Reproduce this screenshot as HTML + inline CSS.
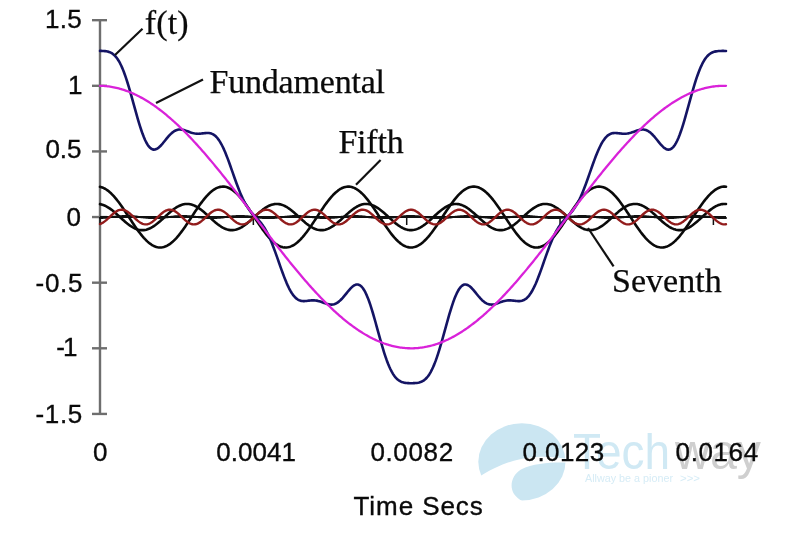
<!DOCTYPE html>
<html><head><meta charset="utf-8"><style>
html,body{margin:0;padding:0;background:#fff;}
svg{display:block;filter:blur(0.35px);}
.ax{font-family:"Liberation Sans",sans-serif;font-size:26px;fill:#0a0a0a;stroke:#0a0a0a;stroke-width:0.35px;}
.sr{font-family:"Liberation Serif",serif;font-size:34px;fill:#0a0a0a;stroke:#0a0a0a;stroke-width:0.25px;}
</style></head><body>
<svg width="800" height="548" viewBox="0 0 800 548">
<rect width="800" height="548" fill="#fff"/>
<g id="logo">
<ellipse cx="521.9" cy="461.8" rx="43.6" ry="38.6" fill="#cbe6f2"/>
<path d="M468,479 L478.5,477.5 C494,467 515,457.5 540,456.8 C552,456.6 562,458 570,459.5 L570,462.8 C556,462 535,462.5 521,469.5 C512,475 509,486 514,494 C518,500 526,503 534,506 L468,512 Z" fill="#fff"/>
<text x="573" y="468.75" textLength="97" lengthAdjust="spacingAndGlyphs" style="font-family:'Liberation Sans',sans-serif;font-size:49.5px;fill:#d0e9f4">Tech</text>
<text x="675" y="468.75" textLength="86" lengthAdjust="spacingAndGlyphs" style="font-family:'Liberation Sans',sans-serif;font-size:49.5px;fill:#cfcfcf">way</text>
<text x="585" y="481.5" textLength="88" lengthAdjust="spacingAndGlyphs" style="font-family:'Liberation Sans',sans-serif;font-size:10.5px;fill:#d6ecf6">Allway be a pioner</text>
<text x="680" y="481.5" textLength="20" lengthAdjust="spacingAndGlyphs" style="font-family:'Liberation Sans',sans-serif;font-size:10.5px;fill:#d6ecf6">&gt;&gt;&gt;</text>
</g>
<line x1="100" y1="20.2" x2="100" y2="413.9" stroke="#6e6e6e" stroke-width="2.4"/>
<line x1="92" y1="20.18" x2="107" y2="20.18" stroke="#6e6e6e" stroke-width="2.4"/>
<line x1="92" y1="85.80" x2="107" y2="85.80" stroke="#6e6e6e" stroke-width="2.4"/>
<line x1="92" y1="151.43" x2="107" y2="151.43" stroke="#6e6e6e" stroke-width="2.4"/>
<line x1="92" y1="217.05" x2="107" y2="217.05" stroke="#6e6e6e" stroke-width="2.4"/>
<line x1="92" y1="282.68" x2="107" y2="282.68" stroke="#6e6e6e" stroke-width="2.4"/>
<line x1="92" y1="348.30" x2="107" y2="348.30" stroke="#6e6e6e" stroke-width="2.4"/>
<line x1="92" y1="413.93" x2="107" y2="413.93" stroke="#6e6e6e" stroke-width="2.4"/>

<line x1="100" y1="217" x2="726" y2="217" stroke="#111" stroke-width="2"/>
<line x1="100.00" y1="217" x2="100.00" y2="225" stroke="#111" stroke-width="1.5"/>
<line x1="253.35" y1="217" x2="253.35" y2="225" stroke="#111" stroke-width="1.5"/>
<line x1="406.70" y1="217" x2="406.70" y2="225" stroke="#111" stroke-width="1.5"/>
<line x1="560.05" y1="217" x2="560.05" y2="225" stroke="#111" stroke-width="1.5"/>
<line x1="713.40" y1="217" x2="713.40" y2="225" stroke="#111" stroke-width="1.5"/>

<g fill="none" stroke-linejoin="round" stroke-linecap="round">
<path d="M100.00,186.84 L101.25,187.14 L102.50,187.55 L103.76,188.08 L105.01,188.73 L106.26,189.49 L107.51,190.35 L108.76,191.32 L110.02,192.39 L111.27,193.56 L112.52,194.82 L113.77,196.17 L115.02,197.60 L116.28,199.11 L117.53,200.69 L118.78,202.33 L120.03,204.03 L121.28,205.78 L122.54,207.58 L123.79,209.41 L125.04,211.27 L126.29,213.16 L127.54,215.06 L128.80,216.97 L130.05,218.88 L131.30,220.78 L132.55,222.67 L133.80,224.53 L135.06,226.37 L136.31,228.17 L137.56,229.92 L138.81,231.63 L140.06,233.27 L141.32,234.86 L142.57,236.37 L143.82,237.81 L145.07,239.16 L146.32,240.43 L147.58,241.61 L148.83,242.69 L150.08,243.67 L151.33,244.54 L152.58,245.31 L153.84,245.97 L155.09,246.51 L156.34,246.93 L157.59,247.24 L158.84,247.43 L160.10,247.50 L161.35,247.45 L162.60,247.28 L163.85,246.99 L165.10,246.59 L166.36,246.06 L167.61,245.43 L168.86,244.68 L170.11,243.82 L171.36,242.86 L172.62,241.80 L173.87,240.63 L175.12,239.38 L176.37,238.04 L177.62,236.61 L178.88,235.11 L180.13,233.54 L181.38,231.90 L182.63,230.21 L183.88,228.46 L185.14,226.67 L186.39,224.84 L187.64,222.98 L188.89,221.09 L190.14,219.19 L191.40,217.28 L192.65,215.38 L193.90,213.47 L195.15,211.58 L196.40,209.72 L197.66,207.88 L198.91,206.08 L200.16,204.32 L201.41,202.61 L202.66,200.96 L203.92,199.37 L205.17,197.85 L206.42,196.40 L207.67,195.04 L208.92,193.77 L210.18,192.58 L211.43,191.49 L212.68,190.51 L213.93,189.62 L215.18,188.85 L216.44,188.18 L217.69,187.63 L218.94,187.20 L220.19,186.88 L221.44,186.68 L222.70,186.60 L223.95,186.64 L225.20,186.80 L226.45,187.08 L227.70,187.48 L228.96,187.99 L230.21,188.62 L231.46,189.36 L232.71,190.21 L233.96,191.16 L235.22,192.22 L236.47,193.37 L237.72,194.62 L238.97,195.95 L240.22,197.37 L241.48,198.86 L242.73,200.43 L243.98,202.06 L245.23,203.75 L246.48,205.50 L247.74,207.29 L248.99,209.11 L250.24,210.97 L251.49,212.86 L252.74,214.75 L254.00,216.66 L255.25,218.57 L256.50,220.48 L257.75,222.37 L259.00,224.23 L260.26,226.08 L261.51,227.88 L262.76,229.64 L264.01,231.36 L265.26,233.01 L266.52,234.61 L267.77,236.13 L269.02,237.58 L270.27,238.95 L271.52,240.24 L272.78,241.43 L274.03,242.52 L275.28,243.52 L276.53,244.41 L277.78,245.19 L279.04,245.87 L280.29,246.43 L281.54,246.87 L282.79,247.20 L284.04,247.41 L285.30,247.50 L286.55,247.47 L287.80,247.32 L289.05,247.05 L290.30,246.66 L291.56,246.15 L292.81,245.54 L294.06,244.81 L295.31,243.97 L296.56,243.02 L297.82,241.97 L299.07,240.83 L300.32,239.59 L301.57,238.26 L302.82,236.85 L304.08,235.36 L305.33,233.80 L306.58,232.17 L307.83,230.48 L309.08,228.74 L310.34,226.96 L311.59,225.13 L312.84,223.28 L314.09,221.40 L315.34,219.50 L316.60,217.59 L317.85,215.68 L319.10,213.78 L320.35,211.88 L321.60,210.01 L322.86,208.17 L324.11,206.36 L325.36,204.60 L326.61,202.88 L327.86,201.22 L329.12,199.62 L330.37,198.09 L331.62,196.63 L332.87,195.25 L334.12,193.96 L335.38,192.76 L336.63,191.66 L337.88,190.66 L339.13,189.76 L340.38,188.96 L341.64,188.28 L342.89,187.71 L344.14,187.26 L345.39,186.92 L346.64,186.70 L347.90,186.61 L349.15,186.63 L350.40,186.77 L351.65,187.03 L352.90,187.41 L354.16,187.90 L355.41,188.51 L356.66,189.23 L357.91,190.06 L359.16,191.00 L360.42,192.04 L361.67,193.18 L362.92,194.41 L364.17,195.73 L365.42,197.14 L366.68,198.62 L367.93,200.18 L369.18,201.80 L370.43,203.48 L371.68,205.22 L372.94,207.00 L374.19,208.82 L375.44,210.67 L376.69,212.55 L377.94,214.45 L379.20,216.36 L380.45,218.27 L381.70,220.17 L382.95,222.06 L384.20,223.94 L385.46,225.78 L386.71,227.60 L387.96,229.37 L389.21,231.09 L390.46,232.75 L391.72,234.36 L392.97,235.89 L394.22,237.36 L395.47,238.74 L396.72,240.04 L397.98,241.24 L399.23,242.35 L400.48,243.37 L401.73,244.28 L402.98,245.08 L404.24,245.77 L405.49,246.35 L406.74,246.81 L407.99,247.15 L409.24,247.38 L410.50,247.49 L411.75,247.48 L413.00,247.35 L414.25,247.10 L415.50,246.73 L416.76,246.24 L418.01,245.64 L419.26,244.93 L420.51,244.11 L421.76,243.18 L423.02,242.15 L424.27,241.02 L425.52,239.79 L426.77,238.48 L428.02,237.08 L429.28,235.60 L430.53,234.05 L431.78,232.43 L433.03,230.76 L434.28,229.02 L435.54,227.25 L436.79,225.43 L438.04,223.57 L439.29,221.70 L440.54,219.80 L441.80,217.90 L443.05,215.99 L444.30,214.08 L445.55,212.19 L446.80,210.31 L448.06,208.46 L449.31,206.65 L450.56,204.87 L451.81,203.15 L453.06,201.48 L454.32,199.87 L455.57,198.33 L456.82,196.86 L458.07,195.47 L459.32,194.16 L460.58,192.95 L461.83,191.83 L463.08,190.81 L464.33,189.89 L465.58,189.08 L466.84,188.38 L468.09,187.80 L469.34,187.32 L470.59,186.97 L471.84,186.73 L473.10,186.61 L474.35,186.62 L475.60,186.74 L476.85,186.98 L478.10,187.34 L479.36,187.81 L480.61,188.41 L481.86,189.11 L483.11,189.92 L484.36,190.84 L485.62,191.87 L486.87,192.99 L488.12,194.21 L489.37,195.52 L490.62,196.91 L491.88,198.38 L493.13,199.92 L494.38,201.54 L495.63,203.21 L496.88,204.94 L498.14,206.71 L499.39,208.53 L500.64,210.38 L501.89,212.25 L503.14,214.15 L504.40,216.05 L505.65,217.96 L506.90,219.87 L508.15,221.76 L509.40,223.64 L510.66,225.49 L511.91,227.31 L513.16,229.09 L514.41,230.82 L515.66,232.49 L516.92,234.11 L518.17,235.65 L519.42,237.13 L520.67,238.52 L521.92,239.84 L523.18,241.06 L524.43,242.18 L525.68,243.21 L526.93,244.14 L528.18,244.96 L529.44,245.67 L530.69,246.26 L531.94,246.74 L533.19,247.11 L534.44,247.35 L535.70,247.48 L536.95,247.49 L538.20,247.38 L539.45,247.14 L540.70,246.79 L541.96,246.33 L543.21,245.75 L544.46,245.05 L545.71,244.25 L546.96,243.33 L548.22,242.32 L549.47,241.20 L550.72,239.99 L551.97,238.69 L553.22,237.31 L554.48,235.84 L555.73,234.30 L556.98,232.70 L558.23,231.03 L559.48,229.30 L560.74,227.53 L561.99,225.72 L563.24,223.87 L564.49,222.00 L565.74,220.11 L567.00,218.20 L568.25,216.29 L569.50,214.38 L570.75,212.49 L572.00,210.61 L573.26,208.76 L574.51,206.94 L575.76,205.15 L577.01,203.42 L578.26,201.74 L579.52,200.12 L580.77,198.57 L582.02,197.09 L583.27,195.68 L584.52,194.37 L585.78,193.14 L587.03,192.00 L588.28,190.97 L589.53,190.03 L590.78,189.21 L592.04,188.49 L593.29,187.88 L594.54,187.39 L595.79,187.02 L597.04,186.76 L598.30,186.62 L599.55,186.61 L600.80,186.71 L602.05,186.93 L603.30,187.27 L604.56,187.73 L605.81,188.30 L607.06,188.99 L608.31,189.79 L609.56,190.69 L610.82,191.70 L612.07,192.80 L613.32,194.01 L614.57,195.30 L615.82,196.68 L617.08,198.14 L618.33,199.67 L619.58,201.27 L620.83,202.94 L622.08,204.66 L623.34,206.42 L624.59,208.23 L625.84,210.08 L627.09,211.95 L628.34,213.84 L629.60,215.75 L630.85,217.66 L632.10,219.56 L633.35,221.46 L634.60,223.34 L635.86,225.20 L637.11,227.02 L638.36,228.80 L639.61,230.54 L640.86,232.23 L642.12,233.85 L643.37,235.41 L644.62,236.90 L645.87,238.31 L647.12,239.63 L648.38,240.87 L649.63,242.01 L650.88,243.05 L652.13,244.00 L653.38,244.83 L654.64,245.56 L655.89,246.17 L657.14,246.67 L658.39,247.06 L659.64,247.32 L660.90,247.47 L662.15,247.50 L663.40,247.40 L664.65,247.19 L665.90,246.86 L667.16,246.41 L668.41,245.85 L669.66,245.17 L670.91,244.38 L672.16,243.49 L673.42,242.49 L674.67,241.39 L675.92,240.19 L677.17,238.91 L678.42,237.53 L679.68,236.08 L680.93,234.55 L682.18,232.96 L683.43,231.30 L684.68,229.58 L685.94,227.82 L687.19,226.01 L688.44,224.17 L689.69,222.30 L690.94,220.41 L692.20,218.50 L693.45,216.60 L694.70,214.69 L695.95,212.79 L697.20,210.91 L698.46,209.05 L699.71,207.22 L700.96,205.44 L702.21,203.69 L703.46,202.01 L704.72,200.37 L705.97,198.81 L707.22,197.32 L708.47,195.90 L709.72,194.57 L710.98,193.33 L712.23,192.18 L713.48,191.13 L714.73,190.17 L715.98,189.33 L717.24,188.59 L718.49,187.97 L719.74,187.46 L720.99,187.07 L722.24,186.79 L723.50,186.64 L724.75,186.60 L726.00,186.69" stroke="#0a0a0a" stroke-width="2.6"/>
<path d="M100.00,204.13 L101.25,204.38 L102.50,204.73 L103.76,205.17 L105.01,205.70 L106.26,206.33 L107.51,207.03 L108.76,207.81 L110.02,208.67 L111.27,209.58 L112.52,210.56 L113.77,211.59 L115.02,212.65 L116.28,213.76 L117.53,214.88 L118.78,216.03 L120.03,217.18 L121.28,218.33 L122.54,219.47 L123.79,220.59 L125.04,221.69 L126.29,222.75 L127.54,223.76 L128.80,224.72 L130.05,225.63 L131.30,226.47 L132.55,227.23 L133.80,227.92 L135.06,228.52 L136.31,229.04 L137.56,229.46 L138.81,229.79 L140.06,230.02 L141.32,230.14 L142.57,230.17 L143.82,230.10 L145.07,229.93 L146.32,229.65 L147.58,229.28 L148.83,228.82 L150.08,228.26 L151.33,227.62 L152.58,226.90 L153.84,226.10 L155.09,225.23 L156.34,224.30 L157.59,223.31 L158.84,222.27 L160.10,221.20 L161.35,220.09 L162.60,218.96 L163.85,217.81 L165.10,216.66 L166.36,215.51 L167.61,214.37 L168.86,213.26 L170.11,212.17 L171.36,211.12 L172.62,210.11 L173.87,209.16 L175.12,208.27 L176.37,207.45 L177.62,206.70 L178.88,206.03 L180.13,205.45 L181.38,204.96 L182.63,204.56 L183.88,204.25 L185.14,204.05 L186.39,203.94 L187.64,203.94 L188.89,204.03 L190.14,204.23 L191.40,204.52 L192.65,204.92 L193.90,205.40 L195.15,205.98 L196.40,206.64 L197.66,207.38 L198.91,208.20 L200.16,209.08 L201.41,210.02 L202.66,211.02 L203.92,212.07 L205.17,213.15 L206.42,214.27 L207.67,215.40 L208.92,216.55 L210.18,217.70 L211.43,218.85 L212.68,219.99 L213.93,221.10 L215.18,222.18 L216.44,223.22 L217.69,224.21 L218.94,225.15 L220.19,226.02 L221.44,226.83 L222.70,227.56 L223.95,228.21 L225.20,228.77 L226.45,229.24 L227.70,229.62 L228.96,229.90 L230.21,230.09 L231.46,230.17 L232.71,230.15 L233.96,230.03 L235.22,229.81 L236.47,229.49 L237.72,229.08 L238.97,228.57 L240.22,227.98 L241.48,227.30 L242.73,226.54 L243.98,225.71 L245.23,224.81 L246.48,223.85 L247.74,222.84 L248.99,221.79 L250.24,220.69 L251.49,219.57 L252.74,218.43 L254.00,217.28 L255.25,216.13 L256.50,214.99 L257.75,213.86 L259.00,212.75 L260.26,211.68 L261.51,210.65 L262.76,209.67 L264.01,208.75 L265.26,207.89 L266.52,207.10 L267.77,206.39 L269.02,205.76 L270.27,205.21 L271.52,204.76 L272.78,204.40 L274.03,204.15 L275.28,203.98 L276.53,203.93 L277.78,203.97 L279.04,204.11 L280.29,204.35 L281.54,204.69 L282.79,205.13 L284.04,205.65 L285.30,206.27 L286.55,206.97 L287.80,207.74 L289.05,208.59 L290.30,209.50 L291.56,210.48 L292.81,211.50 L294.06,212.56 L295.31,213.66 L296.56,214.79 L297.82,215.93 L299.07,217.08 L300.32,218.23 L301.57,219.37 L302.82,220.50 L304.08,221.59 L305.33,222.66 L306.58,223.68 L307.83,224.64 L309.08,225.55 L310.34,226.40 L311.59,227.17 L312.84,227.86 L314.09,228.47 L315.34,229.00 L316.60,229.43 L317.85,229.76 L319.10,230.00 L320.35,230.14 L321.60,230.17 L322.86,230.11 L324.11,229.94 L325.36,229.68 L326.61,229.32 L327.86,228.86 L329.12,228.31 L330.37,227.68 L331.62,226.96 L332.87,226.17 L334.12,225.31 L335.38,224.38 L336.63,223.40 L337.88,222.36 L339.13,221.29 L340.38,220.18 L341.64,219.05 L342.89,217.91 L344.14,216.76 L345.39,215.61 L346.64,214.47 L347.90,213.35 L349.15,212.26 L350.40,211.21 L351.65,210.20 L352.90,209.24 L354.16,208.35 L355.41,207.52 L356.66,206.76 L357.91,206.09 L359.16,205.50 L360.42,205.00 L361.67,204.59 L362.92,204.27 L364.17,204.06 L365.42,203.95 L366.68,203.93 L367.93,204.02 L369.18,204.21 L370.43,204.50 L371.68,204.88 L372.94,205.36 L374.19,205.93 L375.44,206.58 L376.69,207.31 L377.94,208.12 L379.20,209.00 L380.45,209.94 L381.70,210.94 L382.95,211.98 L384.20,213.06 L385.46,214.17 L386.71,215.31 L387.96,216.45 L389.21,217.61 L390.46,218.75 L391.72,219.89 L392.97,221.00 L394.22,222.09 L395.47,223.13 L396.72,224.13 L397.98,225.07 L399.23,225.95 L400.48,226.76 L401.73,227.50 L402.98,228.15 L404.24,228.73 L405.49,229.21 L406.74,229.59 L407.99,229.88 L409.24,230.08 L410.50,230.17 L411.75,230.16 L413.00,230.05 L414.25,229.83 L415.50,229.53 L416.76,229.12 L418.01,228.62 L419.26,228.03 L420.51,227.36 L421.76,226.61 L423.02,225.78 L424.27,224.89 L425.52,223.94 L426.77,222.93 L428.02,221.88 L429.28,220.79 L430.53,219.67 L431.78,218.53 L433.03,217.38 L434.28,216.23 L435.54,215.08 L436.79,213.95 L438.04,212.85 L439.29,211.77 L440.54,210.74 L441.80,209.75 L443.05,208.82 L444.30,207.96 L445.55,207.16 L446.80,206.44 L448.06,205.81 L449.31,205.26 L450.56,204.80 L451.81,204.43 L453.06,204.16 L454.32,203.99 L455.57,203.93 L456.82,203.96 L458.07,204.09 L459.32,204.33 L460.58,204.66 L461.83,205.09 L463.08,205.61 L464.33,206.21 L465.58,206.91 L466.84,207.67 L468.09,208.52 L469.34,209.42 L470.59,210.39 L471.84,211.41 L473.10,212.47 L474.35,213.57 L475.60,214.69 L476.85,215.83 L478.10,216.98 L479.36,218.13 L480.61,219.28 L481.86,220.40 L483.11,221.50 L484.36,222.57 L485.62,223.59 L486.87,224.56 L488.12,225.48 L489.37,226.33 L490.62,227.11 L491.88,227.81 L493.13,228.43 L494.38,228.96 L495.63,229.40 L496.88,229.74 L498.14,229.98 L499.39,230.13 L500.64,230.17 L501.89,230.12 L503.14,229.96 L504.40,229.71 L505.65,229.35 L506.90,228.90 L508.15,228.36 L509.40,227.74 L510.66,227.03 L511.91,226.24 L513.16,225.38 L514.41,224.46 L515.66,223.48 L516.92,222.45 L518.17,221.38 L519.42,220.28 L520.67,219.15 L521.92,218.01 L523.18,216.86 L524.43,215.70 L525.68,214.56 L526.93,213.44 L528.18,212.35 L529.44,211.29 L530.69,210.28 L531.94,209.32 L533.19,208.42 L534.44,207.59 L535.70,206.83 L536.95,206.14 L538.20,205.54 L539.45,205.04 L540.70,204.62 L541.96,204.30 L543.21,204.07 L544.46,203.95 L545.71,203.93 L546.96,204.01 L548.22,204.19 L549.47,204.47 L550.72,204.84 L551.97,205.31 L553.22,205.87 L554.48,206.52 L555.73,207.25 L556.98,208.05 L558.23,208.92 L559.48,209.86 L560.74,210.85 L561.99,211.89 L563.24,212.97 L564.49,214.08 L565.74,215.21 L567.00,216.36 L568.25,217.51 L569.50,218.66 L570.75,219.79 L572.00,220.91 L573.26,221.99 L574.51,223.04 L575.76,224.04 L577.01,224.99 L578.26,225.88 L579.52,226.69 L580.77,227.44 L582.02,228.10 L583.27,228.68 L584.52,229.17 L585.78,229.56 L587.03,229.86 L588.28,230.06 L589.53,230.16 L590.78,230.16 L592.04,230.06 L593.29,229.86 L594.54,229.56 L595.79,229.16 L597.04,228.67 L598.30,228.09 L599.55,227.42 L600.80,226.68 L602.05,225.86 L603.30,224.97 L604.56,224.02 L605.81,223.02 L607.06,221.97 L608.31,220.88 L609.56,219.77 L610.82,218.63 L612.07,217.48 L613.32,216.33 L614.57,215.18 L615.82,214.05 L617.08,212.94 L618.33,211.86 L619.58,210.83 L620.83,209.84 L622.08,208.90 L623.34,208.03 L624.59,207.23 L625.84,206.50 L627.09,205.86 L628.34,205.30 L629.60,204.83 L630.85,204.46 L632.10,204.18 L633.35,204.01 L634.60,203.93 L635.86,203.95 L637.11,204.08 L638.36,204.30 L639.61,204.63 L640.86,205.05 L642.12,205.56 L643.37,206.16 L644.62,206.84 L645.87,207.61 L647.12,208.44 L648.38,209.34 L649.63,210.31 L650.88,211.32 L652.13,212.38 L653.38,213.47 L654.64,214.59 L655.89,215.73 L657.14,216.88 L658.39,218.03 L659.64,219.18 L660.90,220.31 L662.15,221.41 L663.40,222.48 L664.65,223.51 L665.90,224.48 L667.16,225.40 L668.41,226.26 L669.66,227.04 L670.91,227.75 L672.16,228.38 L673.42,228.91 L674.67,229.36 L675.92,229.71 L677.17,229.97 L678.42,230.12 L679.68,230.17 L680.93,230.13 L682.18,229.98 L683.43,229.73 L684.68,229.39 L685.94,228.94 L687.19,228.41 L688.44,227.79 L689.69,227.09 L690.94,226.31 L692.20,225.46 L693.45,224.54 L694.70,223.57 L695.95,222.54 L697.20,221.48 L698.46,220.37 L699.71,219.25 L700.96,218.11 L702.21,216.95 L703.46,215.80 L704.72,214.66 L705.97,213.54 L707.22,212.44 L708.47,211.38 L709.72,210.37 L710.98,209.40 L712.23,208.50 L713.48,207.66 L714.73,206.89 L715.98,206.20 L717.24,205.59 L718.49,205.07 L719.74,204.65 L720.99,204.32 L722.24,204.09 L723.50,203.96 L724.75,203.93 L726.00,204.00" stroke="#0a0a0a" stroke-width="2.6"/>
<path d="M100.00,218.06 L101.25,218.01 L102.50,217.94 L103.76,217.86 L105.01,217.76 L106.26,217.65 L107.51,217.52 L108.76,217.39 L110.02,217.25 L111.27,217.11 L112.52,216.96 L113.77,216.82 L115.02,216.68 L116.28,216.55 L117.53,216.43 L118.78,216.32 L120.03,216.22 L121.28,216.14 L122.54,216.08 L123.79,216.03 L125.04,216.01 L126.29,216.00 L127.54,216.02 L128.80,216.05 L130.05,216.10 L131.30,216.17 L132.55,216.26 L133.80,216.37 L135.06,216.48 L136.31,216.61 L137.56,216.74 L138.81,216.88 L140.06,217.03 L141.32,217.17 L142.57,217.32 L143.82,217.45 L145.07,217.58 L146.32,217.70 L147.58,217.81 L148.83,217.90 L150.08,217.98 L151.33,218.04 L152.58,218.08 L153.84,218.10 L155.09,218.10 L156.34,218.08 L157.59,218.04 L158.84,217.98 L160.10,217.91 L161.35,217.81 L162.60,217.71 L163.85,217.59 L165.10,217.46 L166.36,217.32 L167.61,217.18 L168.86,217.04 L170.11,216.89 L171.36,216.75 L172.62,216.62 L173.87,216.49 L175.12,216.37 L176.37,216.27 L177.62,216.18 L178.88,216.11 L180.13,216.05 L181.38,216.02 L182.63,216.00 L183.88,216.00 L185.14,216.03 L186.39,216.07 L187.64,216.13 L188.89,216.21 L190.14,216.31 L191.40,216.42 L192.65,216.54 L193.90,216.67 L195.15,216.81 L196.40,216.95 L197.66,217.10 L198.91,217.24 L200.16,217.38 L201.41,217.51 L202.66,217.64 L203.92,217.75 L205.17,217.85 L206.42,217.94 L207.67,218.01 L208.92,218.06 L210.18,218.09 L211.43,218.10 L212.68,218.09 L213.93,218.06 L215.18,218.01 L216.44,217.95 L217.69,217.87 L218.94,217.77 L220.19,217.65 L221.44,217.53 L222.70,217.40 L223.95,217.26 L225.20,217.11 L226.45,216.97 L227.70,216.83 L228.96,216.69 L230.21,216.55 L231.46,216.43 L232.71,216.32 L233.96,216.22 L235.22,216.14 L236.47,216.08 L237.72,216.03 L238.97,216.01 L240.22,216.00 L241.48,216.01 L242.73,216.05 L243.98,216.10 L245.23,216.17 L246.48,216.26 L247.74,216.36 L248.99,216.47 L250.24,216.60 L251.49,216.74 L252.74,216.88 L254.00,217.02 L255.25,217.17 L256.50,217.31 L257.75,217.45 L259.00,217.58 L260.26,217.70 L261.51,217.80 L262.76,217.90 L264.01,217.97 L265.26,218.03 L266.52,218.07 L267.77,218.10 L269.02,218.10 L270.27,218.08 L271.52,218.04 L272.78,217.99 L274.03,217.91 L275.28,217.82 L276.53,217.71 L277.78,217.60 L279.04,217.47 L280.29,217.33 L281.54,217.19 L282.79,217.05 L284.04,216.90 L285.30,216.76 L286.55,216.62 L287.80,216.50 L289.05,216.38 L290.30,216.27 L291.56,216.18 L292.81,216.11 L294.06,216.05 L295.31,216.02 L296.56,216.00 L297.82,216.00 L299.07,216.03 L300.32,216.07 L301.57,216.13 L302.82,216.21 L304.08,216.30 L305.33,216.41 L306.58,216.53 L307.83,216.66 L309.08,216.80 L310.34,216.94 L311.59,217.09 L312.84,217.23 L314.09,217.37 L315.34,217.51 L316.60,217.63 L317.85,217.75 L319.10,217.85 L320.35,217.94 L321.60,218.00 L322.86,218.06 L324.11,218.09 L325.36,218.10 L326.61,218.09 L327.86,218.06 L329.12,218.02 L330.37,217.95 L331.62,217.87 L332.87,217.77 L334.12,217.66 L335.38,217.54 L336.63,217.40 L337.88,217.26 L339.13,217.12 L340.38,216.98 L341.64,216.83 L342.89,216.69 L344.14,216.56 L345.39,216.44 L346.64,216.33 L347.90,216.23 L349.15,216.15 L350.40,216.08 L351.65,216.03 L352.90,216.01 L354.16,216.00 L355.41,216.01 L356.66,216.04 L357.91,216.10 L359.16,216.17 L360.42,216.25 L361.67,216.35 L362.92,216.47 L364.17,216.59 L365.42,216.73 L366.68,216.87 L367.93,217.01 L369.18,217.16 L370.43,217.30 L371.68,217.44 L372.94,217.57 L374.19,217.69 L375.44,217.80 L376.69,217.89 L377.94,217.97 L379.20,218.03 L380.45,218.07 L381.70,218.10 L382.95,218.10 L384.20,218.08 L385.46,218.04 L386.71,217.99 L387.96,217.92 L389.21,217.83 L390.46,217.72 L391.72,217.60 L392.97,217.48 L394.22,217.34 L395.47,217.20 L396.72,217.05 L397.98,216.91 L399.23,216.77 L400.48,216.63 L401.73,216.50 L402.98,216.38 L404.24,216.28 L405.49,216.19 L406.74,216.11 L407.99,216.06 L409.24,216.02 L410.50,216.00 L411.75,216.00 L413.00,216.03 L414.25,216.07 L415.50,216.13 L416.76,216.20 L418.01,216.30 L419.26,216.41 L420.51,216.53 L421.76,216.66 L423.02,216.79 L424.27,216.94 L425.52,217.08 L426.77,217.23 L428.02,217.37 L429.28,217.50 L430.53,217.63 L431.78,217.74 L433.03,217.84 L434.28,217.93 L435.54,218.00 L436.79,218.05 L438.04,218.09 L439.29,218.10 L440.54,218.09 L441.80,218.07 L443.05,218.02 L444.30,217.96 L445.55,217.87 L446.80,217.78 L448.06,217.67 L449.31,217.54 L450.56,217.41 L451.81,217.27 L453.06,217.13 L454.32,216.98 L455.57,216.84 L456.82,216.70 L458.07,216.57 L459.32,216.44 L460.58,216.33 L461.83,216.23 L463.08,216.15 L464.33,216.08 L465.58,216.04 L466.84,216.01 L468.09,216.00 L469.34,216.01 L470.59,216.04 L471.84,216.09 L473.10,216.16 L474.35,216.25 L475.60,216.35 L476.85,216.46 L478.10,216.59 L479.36,216.72 L480.61,216.86 L481.86,217.00 L483.11,217.15 L484.36,217.29 L485.62,217.43 L486.87,217.56 L488.12,217.68 L489.37,217.79 L490.62,217.89 L491.88,217.97 L493.13,218.03 L494.38,218.07 L495.63,218.10 L496.88,218.10 L498.14,218.08 L499.39,218.05 L500.64,217.99 L501.89,217.92 L503.14,217.83 L504.40,217.73 L505.65,217.61 L506.90,217.48 L508.15,217.35 L509.40,217.21 L510.66,217.06 L511.91,216.92 L513.16,216.77 L514.41,216.64 L515.66,216.51 L516.92,216.39 L518.17,216.28 L519.42,216.19 L520.67,216.12 L521.92,216.06 L523.18,216.02 L524.43,216.00 L525.68,216.00 L526.93,216.02 L528.18,216.06 L529.44,216.12 L530.69,216.20 L531.94,216.29 L533.19,216.40 L534.44,216.52 L535.70,216.65 L536.95,216.79 L538.20,216.93 L539.45,217.07 L540.70,217.22 L541.96,217.36 L543.21,217.49 L544.46,217.62 L545.71,217.74 L546.96,217.84 L548.22,217.93 L549.47,218.00 L550.72,218.05 L551.97,218.09 L553.22,218.10 L554.48,218.09 L555.73,218.07 L556.98,218.02 L558.23,217.96 L559.48,217.88 L560.74,217.78 L561.99,217.67 L563.24,217.55 L564.49,217.42 L565.74,217.28 L567.00,217.14 L568.25,216.99 L569.50,216.85 L570.75,216.71 L572.00,216.58 L573.26,216.45 L574.51,216.34 L575.76,216.24 L577.01,216.15 L578.26,216.09 L579.52,216.04 L580.77,216.01 L582.02,216.00 L583.27,216.01 L584.52,216.04 L585.78,216.09 L587.03,216.16 L588.28,216.24 L589.53,216.34 L590.78,216.45 L592.04,216.58 L593.29,216.71 L594.54,216.85 L595.79,217.00 L597.04,217.14 L598.30,217.28 L599.55,217.42 L600.80,217.55 L602.05,217.68 L603.30,217.79 L604.56,217.88 L605.81,217.96 L607.06,218.03 L608.31,218.07 L609.56,218.09 L610.82,218.10 L612.07,218.08 L613.32,218.05 L614.57,218.00 L615.82,217.92 L617.08,217.84 L618.33,217.73 L619.58,217.62 L620.83,217.49 L622.08,217.35 L623.34,217.21 L624.59,217.07 L625.84,216.92 L627.09,216.78 L628.34,216.64 L629.60,216.52 L630.85,216.40 L632.10,216.29 L633.35,216.20 L634.60,216.12 L635.86,216.06 L637.11,216.02 L638.36,216.00 L639.61,216.00 L640.86,216.02 L642.12,216.06 L643.37,216.12 L644.62,216.20 L645.87,216.29 L647.12,216.39 L648.38,216.51 L649.63,216.64 L650.88,216.78 L652.13,216.92 L653.38,217.07 L654.64,217.21 L655.89,217.35 L657.14,217.49 L658.39,217.61 L659.64,217.73 L660.90,217.83 L662.15,217.92 L663.40,217.99 L664.65,218.05 L665.90,218.08 L667.16,218.10 L668.41,218.09 L669.66,218.07 L670.91,218.03 L672.16,217.96 L673.42,217.88 L674.67,217.79 L675.92,217.68 L677.17,217.56 L678.42,217.43 L679.68,217.29 L680.93,217.15 L682.18,217.00 L683.43,216.86 L684.68,216.72 L685.94,216.58 L687.19,216.46 L688.44,216.34 L689.69,216.24 L690.94,216.16 L692.20,216.09 L693.45,216.04 L694.70,216.01 L695.95,216.00 L697.20,216.01 L698.46,216.04 L699.71,216.09 L700.96,216.15 L702.21,216.24 L703.46,216.34 L704.72,216.45 L705.97,216.57 L707.22,216.71 L708.47,216.85 L709.72,216.99 L710.98,217.13 L712.23,217.28 L713.48,217.42 L714.73,217.55 L715.98,217.67 L717.24,217.78 L718.49,217.88 L719.74,217.96 L720.99,218.02 L722.24,218.07 L723.50,218.09 L724.75,218.10 L726.00,218.09" stroke="#111" stroke-width="2"/>
<path d="M100.00,224.01 L101.25,223.54 L102.50,222.89 L103.76,222.09 L105.01,221.16 L106.26,220.11 L107.51,218.99 L108.76,217.81 L110.02,216.61 L111.27,215.43 L112.52,214.28 L113.77,213.21 L115.02,212.25 L116.28,211.41 L117.53,210.72 L118.78,210.20 L120.03,209.86 L121.28,209.71 L122.54,209.75 L123.79,209.99 L125.04,210.42 L126.29,211.02 L127.54,211.79 L128.80,212.69 L130.05,213.71 L131.30,214.81 L132.55,215.98 L133.80,217.18 L135.06,218.37 L136.31,219.52 L137.56,220.61 L138.81,221.61 L140.06,222.49 L141.32,223.22 L142.57,223.78 L143.82,224.17 L145.07,224.37 L146.32,224.38 L147.58,224.19 L148.83,223.81 L150.08,223.25 L151.33,222.53 L152.58,221.66 L153.84,220.67 L155.09,219.58 L156.34,218.43 L157.59,217.24 L158.84,216.04 L160.10,214.87 L161.35,213.76 L162.60,212.74 L163.85,211.83 L165.10,211.06 L166.36,210.45 L167.61,210.01 L168.86,209.76 L170.11,209.70 L171.36,209.84 L172.62,210.17 L173.87,210.69 L175.12,211.37 L176.37,212.20 L177.62,213.16 L178.88,214.23 L180.13,215.36 L181.38,216.55 L182.63,217.75 L183.88,218.93 L185.14,220.05 L186.39,221.10 L187.64,222.05 L188.89,222.85 L190.14,223.51 L191.40,223.99 L192.65,224.29 L193.90,224.40 L195.15,224.31 L196.40,224.03 L197.66,223.57 L198.91,222.93 L200.16,222.13 L201.41,221.20 L202.66,220.16 L203.92,219.04 L205.17,217.86 L206.42,216.67 L207.67,215.48 L208.92,214.33 L210.18,213.26 L211.43,212.29 L212.68,211.44 L213.93,210.75 L215.18,210.22 L216.44,209.87 L217.69,209.71 L218.94,209.75 L220.19,209.98 L221.44,210.40 L222.70,210.99 L223.95,211.75 L225.20,212.64 L226.45,213.66 L227.70,214.76 L228.96,215.93 L230.21,217.12 L231.46,218.31 L232.71,219.47 L233.96,220.57 L235.22,221.57 L236.47,222.45 L237.72,223.19 L238.97,223.76 L240.22,224.16 L241.48,224.37 L242.73,224.38 L243.98,224.20 L245.23,223.83 L246.48,223.28 L247.74,222.57 L248.99,221.70 L250.24,220.72 L251.49,219.63 L252.74,218.48 L254.00,217.29 L255.25,216.10 L256.50,214.93 L257.75,213.81 L259.00,212.78 L260.26,211.87 L261.51,211.09 L262.76,210.47 L264.01,210.03 L265.26,209.77 L266.52,209.70 L267.77,209.83 L269.02,210.15 L270.27,210.66 L271.52,211.33 L272.78,212.16 L274.03,213.11 L275.28,214.17 L276.53,215.31 L277.78,216.49 L279.04,217.69 L280.29,218.87 L281.54,220.00 L282.79,221.06 L284.04,222.00 L285.30,222.82 L286.55,223.48 L287.80,223.98 L289.05,224.28 L290.30,224.40 L291.56,224.32 L292.81,224.05 L294.06,223.59 L295.31,222.96 L296.56,222.17 L297.82,221.25 L299.07,220.21 L300.32,219.09 L301.57,217.92 L302.82,216.72 L304.08,215.53 L305.33,214.39 L306.58,213.31 L307.83,212.33 L309.08,211.48 L310.34,210.77 L311.59,210.24 L312.84,209.88 L314.09,209.71 L315.34,209.74 L316.60,209.96 L317.85,210.37 L319.10,210.96 L320.35,211.71 L321.60,212.60 L322.86,213.61 L324.11,214.71 L325.36,215.87 L326.61,217.07 L327.86,218.26 L329.12,219.42 L330.37,220.52 L331.62,221.52 L332.87,222.41 L334.12,223.16 L335.38,223.74 L336.63,224.15 L337.88,224.36 L339.13,224.39 L340.38,224.21 L341.64,223.85 L342.89,223.31 L344.14,222.60 L345.39,221.75 L346.64,220.76 L347.90,219.69 L349.15,218.54 L350.40,217.35 L351.65,216.15 L352.90,214.98 L354.16,213.86 L355.41,212.83 L356.66,211.91 L357.91,211.12 L359.16,210.50 L360.42,210.04 L361.67,209.78 L362.92,209.70 L364.17,209.82 L365.42,210.14 L366.68,210.63 L367.93,211.30 L369.18,212.12 L370.43,213.07 L371.68,214.12 L372.94,215.26 L374.19,216.44 L375.44,217.64 L376.69,218.82 L377.94,219.95 L379.20,221.01 L380.45,221.96 L381.70,222.79 L382.95,223.46 L384.20,223.96 L385.46,224.27 L386.71,224.40 L387.96,224.33 L389.21,224.06 L390.46,223.62 L391.72,222.99 L392.97,222.21 L394.22,221.29 L395.47,220.26 L396.72,219.14 L397.98,217.97 L399.23,216.78 L400.48,215.59 L401.73,214.44 L402.98,213.36 L404.24,212.37 L405.49,211.51 L406.74,210.80 L407.99,210.26 L409.24,209.89 L410.50,209.72 L411.75,209.73 L413.00,209.95 L414.25,210.35 L415.50,210.93 L416.76,211.67 L418.01,212.56 L419.26,213.56 L420.51,214.66 L421.76,215.82 L423.02,217.01 L424.27,218.20 L425.52,219.37 L426.77,220.47 L428.02,221.48 L429.28,222.37 L430.53,223.13 L431.78,223.72 L433.03,224.13 L434.28,224.36 L435.54,224.39 L436.79,224.23 L438.04,223.87 L439.29,223.34 L440.54,222.64 L441.80,221.79 L443.05,220.81 L444.30,219.74 L445.55,218.59 L446.80,217.40 L448.06,216.21 L449.31,215.03 L450.56,213.91 L451.81,212.87 L453.06,211.95 L454.32,211.16 L455.57,210.52 L456.82,210.06 L458.07,209.78 L459.32,209.70 L460.58,209.81 L461.83,210.12 L463.08,210.60 L464.33,211.26 L465.58,212.08 L466.84,213.02 L468.09,214.07 L469.34,215.20 L470.59,216.38 L471.84,217.58 L473.10,218.76 L474.35,219.90 L475.60,220.96 L476.85,221.92 L478.10,222.75 L479.36,223.43 L480.61,223.94 L481.86,224.26 L483.11,224.40 L484.36,224.34 L485.62,224.08 L486.87,223.64 L488.12,223.02 L489.37,222.25 L490.62,221.34 L491.88,220.31 L493.13,219.20 L494.38,218.03 L495.63,216.83 L496.88,215.64 L498.14,214.49 L499.39,213.40 L500.64,212.42 L501.89,211.55 L503.14,210.83 L504.40,210.28 L505.65,209.90 L506.90,209.72 L508.15,209.73 L509.40,209.93 L510.66,210.33 L511.91,210.90 L513.16,211.63 L514.41,212.51 L515.66,213.51 L516.92,214.60 L518.17,215.76 L519.42,216.95 L520.67,218.15 L521.92,219.32 L523.18,220.42 L524.43,221.44 L525.68,222.34 L526.93,223.09 L528.18,223.69 L529.44,224.12 L530.69,224.35 L531.94,224.39 L533.19,224.24 L534.44,223.89 L535.70,223.37 L536.95,222.67 L538.20,221.83 L539.45,220.86 L540.70,219.79 L541.96,218.64 L543.21,217.46 L544.46,216.26 L545.71,215.09 L546.96,213.96 L548.22,212.92 L549.47,211.99 L550.72,211.19 L551.97,210.55 L553.22,210.08 L554.48,209.79 L555.73,209.70 L556.98,209.80 L558.23,210.10 L559.48,210.58 L560.74,211.23 L561.99,212.04 L563.24,212.98 L564.49,214.02 L565.74,215.15 L567.00,216.33 L568.25,217.53 L569.50,218.71 L570.75,219.85 L572.00,220.92 L573.26,221.88 L574.51,222.72 L575.76,223.40 L577.01,223.92 L578.26,224.25 L579.52,224.39 L580.77,224.34 L582.02,224.10 L583.27,223.66 L584.52,223.06 L585.78,222.29 L587.03,221.38 L588.28,220.36 L589.53,219.25 L590.78,218.08 L592.04,216.89 L593.29,215.70 L594.54,214.54 L595.79,213.45 L597.04,212.46 L598.30,211.59 L599.55,210.86 L600.80,210.30 L602.05,209.92 L603.30,209.72 L604.56,209.72 L605.81,209.92 L607.06,210.31 L608.31,210.87 L609.56,211.60 L610.82,212.47 L612.07,213.46 L613.32,214.55 L614.57,215.71 L615.82,216.90 L617.08,218.10 L618.33,219.26 L619.58,220.37 L620.83,221.39 L622.08,222.30 L623.34,223.06 L624.59,223.67 L625.84,224.10 L627.09,224.34 L628.34,224.39 L629.60,224.25 L630.85,223.91 L632.10,223.39 L633.35,222.71 L634.60,221.87 L635.86,220.91 L637.11,219.84 L638.36,218.70 L639.61,217.51 L640.86,216.32 L642.12,215.14 L643.37,214.01 L644.62,212.96 L645.87,212.03 L647.12,211.22 L648.38,210.57 L649.63,210.09 L650.88,209.80 L652.13,209.70 L653.38,209.79 L654.64,210.08 L655.89,210.55 L657.14,211.20 L658.39,212.00 L659.64,212.93 L660.90,213.97 L662.15,215.10 L663.40,216.27 L664.65,217.47 L665.90,218.66 L667.16,219.80 L668.41,220.87 L669.66,221.84 L670.91,222.68 L672.16,223.37 L673.42,223.90 L674.67,224.24 L675.92,224.39 L677.17,224.35 L678.42,224.11 L679.68,223.69 L680.93,223.09 L682.18,222.33 L683.43,221.43 L684.68,220.41 L685.94,219.30 L687.19,218.14 L688.44,216.94 L689.69,215.75 L690.94,214.59 L692.20,213.50 L693.45,212.50 L694.70,211.63 L695.95,210.89 L697.20,210.32 L698.46,209.93 L699.71,209.73 L700.96,209.72 L702.21,209.91 L703.46,210.28 L704.72,210.84 L705.97,211.56 L707.22,212.43 L708.47,213.42 L709.72,214.50 L710.98,215.65 L712.23,216.84 L713.48,218.04 L714.73,219.21 L715.98,220.32 L717.24,221.35 L718.49,222.26 L719.74,223.03 L720.99,223.65 L722.24,224.08 L723.50,224.34 L724.75,224.40 L726.00,224.26" stroke="#921c1c" stroke-width="2.4"/>
<path d="M100.00,50.91 L101.25,50.92 L102.50,50.96 L103.76,51.02 L105.01,51.13 L106.26,51.30 L107.51,51.54 L108.76,51.87 L110.02,52.33 L111.27,52.94 L112.52,53.71 L113.77,54.69 L115.02,55.88 L116.28,57.31 L117.53,59.01 L118.78,60.98 L120.03,63.24 L121.28,65.79 L122.54,68.64 L123.79,71.77 L125.04,75.18 L126.29,78.85 L127.54,82.75 L128.80,86.86 L130.05,91.15 L131.30,95.56 L132.55,100.07 L133.80,104.63 L135.06,109.18 L136.31,113.69 L137.56,118.09 L138.81,122.35 L140.06,126.42 L141.32,130.25 L142.57,133.81 L143.82,137.05 L145.07,139.96 L146.32,142.50 L147.58,144.66 L148.83,146.43 L150.08,147.81 L151.33,148.79 L152.58,149.39 L153.84,149.63 L155.09,149.52 L156.34,149.10 L157.59,148.40 L158.84,147.45 L160.10,146.29 L161.35,144.98 L162.60,143.54 L163.85,142.02 L165.10,140.46 L166.36,138.91 L167.61,137.39 L168.86,135.95 L170.11,134.61 L171.36,133.40 L172.62,132.34 L173.87,131.44 L175.12,130.72 L176.37,130.16 L177.62,129.78 L178.88,129.57 L180.13,129.51 L181.38,129.58 L182.63,129.78 L183.88,130.08 L185.14,130.46 L186.39,130.88 L187.64,131.34 L188.89,131.80 L190.14,132.24 L191.40,132.65 L192.65,133.01 L193.90,133.30 L195.15,133.52 L196.40,133.67 L197.66,133.74 L198.91,133.73 L200.16,133.67 L201.41,133.55 L202.66,133.41 L203.92,133.26 L205.17,133.12 L206.42,133.02 L207.67,132.99 L208.92,133.06 L210.18,133.25 L211.43,133.60 L212.68,134.13 L213.93,134.86 L215.18,135.81 L216.44,137.00 L217.69,138.43 L218.94,140.13 L220.19,142.08 L221.44,144.28 L222.70,146.73 L223.95,149.42 L225.20,152.31 L226.45,155.40 L227.70,158.65 L228.96,162.03 L230.21,165.51 L231.46,169.06 L232.71,172.64 L233.96,176.21 L235.22,179.74 L236.47,183.21 L237.72,186.57 L238.97,189.80 L240.22,192.88 L241.48,195.80 L242.73,198.53 L243.98,201.07 L245.23,203.41 L246.48,205.57 L247.74,207.55 L248.99,209.35 L250.24,211.01 L251.49,212.54 L252.74,213.97 L254.00,215.32 L255.25,216.63 L256.50,217.93 L257.75,219.26 L259.00,220.63 L260.26,222.10 L261.51,223.67 L262.76,225.38 L264.01,227.24 L265.26,229.28 L266.52,231.50 L267.77,233.92 L269.02,236.53 L270.27,239.33 L271.52,242.30 L272.78,245.44 L274.03,248.72 L275.28,252.12 L276.53,255.61 L277.78,259.17 L279.04,262.75 L280.29,266.32 L281.54,269.85 L282.79,273.29 L284.04,276.63 L285.30,279.83 L286.55,282.85 L287.80,285.67 L289.05,288.27 L290.30,290.63 L291.56,292.75 L292.81,294.61 L294.06,296.21 L295.31,297.56 L296.56,298.66 L297.82,299.53 L299.07,300.18 L300.32,300.64 L301.57,300.93 L302.82,301.08 L304.08,301.11 L305.33,301.05 L306.58,300.94 L307.83,300.79 L309.08,300.64 L310.34,300.50 L311.59,300.40 L312.84,300.36 L314.09,300.38 L315.34,300.47 L316.60,300.65 L317.85,300.89 L319.10,301.21 L320.35,301.59 L321.60,302.01 L322.86,302.47 L324.11,302.93 L325.36,303.37 L326.61,303.79 L327.86,304.13 L329.12,304.40 L330.37,304.56 L331.62,304.59 L332.87,304.47 L334.12,304.20 L335.38,303.76 L336.63,303.14 L337.88,302.35 L339.13,301.40 L340.38,300.28 L341.64,299.02 L342.89,297.64 L344.14,296.17 L345.39,294.64 L346.64,293.08 L347.90,291.53 L349.15,290.04 L350.40,288.64 L351.65,287.37 L352.90,286.29 L354.16,285.42 L355.41,284.82 L356.66,284.50 L357.91,284.52 L359.16,284.88 L360.42,285.62 L361.67,286.74 L362.92,288.26 L364.17,290.17 L365.42,292.47 L366.68,295.14 L367.93,298.17 L369.18,301.53 L370.43,305.19 L371.68,309.11 L372.94,313.25 L374.19,317.57 L375.44,322.02 L376.69,326.54 L377.94,331.10 L379.20,335.65 L380.45,340.13 L381.70,344.50 L382.95,348.73 L384.20,352.77 L385.46,356.59 L386.71,360.17 L387.96,363.48 L389.21,366.51 L390.46,369.25 L391.72,371.70 L392.97,373.86 L394.22,375.73 L395.47,377.33 L396.72,378.68 L397.98,379.79 L399.23,380.69 L400.48,381.40 L401.73,381.95 L402.98,382.36 L404.24,382.66 L405.49,382.87 L406.74,383.01 L407.99,383.10 L409.24,383.16 L410.50,383.18 L411.75,383.18 L413.00,383.17 L414.25,383.12 L415.50,383.04 L416.76,382.92 L418.01,382.73 L419.26,382.45 L420.51,382.08 L421.76,381.57 L423.02,380.91 L424.27,380.06 L425.52,379.01 L426.77,377.74 L428.02,376.21 L429.28,374.42 L430.53,372.34 L431.78,369.98 L433.03,367.32 L434.28,364.37 L435.54,361.14 L436.79,357.63 L438.04,353.88 L439.29,349.90 L440.54,345.72 L441.80,341.39 L443.05,336.93 L444.30,332.40 L445.55,327.84 L446.80,323.30 L448.06,318.82 L449.31,314.46 L450.56,310.27 L451.81,306.28 L453.06,302.54 L454.32,299.09 L455.57,295.97 L456.82,293.19 L458.07,290.78 L459.32,288.76 L460.58,287.13 L461.83,285.90 L463.08,285.05 L464.33,284.58 L465.58,284.47 L466.84,284.70 L468.09,285.22 L469.34,286.02 L470.59,287.04 L471.84,288.26 L473.10,289.63 L474.35,291.10 L475.60,292.64 L476.85,294.20 L478.10,295.74 L479.36,297.23 L480.61,298.64 L481.86,299.94 L483.11,301.09 L484.36,302.10 L485.62,302.94 L486.87,303.60 L488.12,304.09 L489.37,304.41 L490.62,304.57 L491.88,304.58 L493.13,304.46 L494.38,304.22 L495.63,303.89 L496.88,303.50 L498.14,303.06 L499.39,302.60 L500.64,302.14 L501.89,301.71 L503.14,301.31 L504.40,300.98 L505.65,300.71 L506.90,300.52 L508.15,300.40 L509.40,300.36 L510.66,300.38 L511.91,300.47 L513.16,300.60 L514.41,300.75 L515.66,300.90 L516.92,301.02 L518.17,301.10 L519.42,301.10 L520.67,300.99 L521.92,300.74 L523.18,300.33 L524.43,299.73 L525.68,298.93 L526.93,297.90 L528.18,296.62 L529.44,295.09 L530.69,293.30 L531.94,291.26 L533.19,288.97 L534.44,286.43 L535.70,283.67 L536.95,280.70 L538.20,277.56 L539.45,274.26 L540.70,270.84 L541.96,267.33 L543.21,263.76 L544.46,260.18 L545.71,256.62 L546.96,253.11 L548.22,249.68 L549.47,246.36 L550.72,243.18 L551.97,240.15 L553.22,237.31 L554.48,234.64 L555.73,232.17 L556.98,229.89 L558.23,227.80 L559.48,225.89 L560.74,224.14 L561.99,222.53 L563.24,221.04 L564.49,219.64 L565.74,218.31 L567.00,217.00 L568.25,215.70 L569.50,214.36 L570.75,212.95 L572.00,211.46 L573.26,209.84 L574.51,208.08 L575.76,206.15 L577.01,204.05 L578.26,201.75 L579.52,199.27 L580.77,196.59 L582.02,193.73 L583.27,190.69 L584.52,187.50 L585.78,184.17 L587.03,180.74 L588.28,177.22 L589.53,173.65 L590.78,170.07 L592.04,166.51 L593.29,163.01 L594.54,159.60 L595.79,156.31 L597.04,153.17 L598.30,150.22 L599.55,147.47 L600.80,144.96 L602.05,142.68 L603.30,140.66 L604.56,138.89 L605.81,137.38 L607.06,136.12 L608.31,135.10 L609.56,134.31 L610.82,133.73 L612.07,133.34 L613.32,133.10 L614.57,133.00 L615.82,133.00 L617.08,133.08 L618.33,133.21 L619.58,133.36 L620.83,133.51 L622.08,133.64 L623.34,133.72 L624.59,133.74 L625.84,133.70 L627.09,133.57 L628.34,133.37 L629.60,133.10 L630.85,132.76 L632.10,132.36 L633.35,131.93 L634.60,131.47 L635.86,131.01 L637.11,130.57 L638.36,130.18 L639.61,129.86 L640.86,129.63 L642.12,129.52 L643.37,129.53 L644.62,129.70 L645.87,130.04 L647.12,130.54 L648.38,131.22 L649.63,132.07 L650.88,133.09 L652.13,134.26 L653.38,135.56 L654.64,136.97 L655.89,138.47 L657.14,140.02 L658.39,141.58 L659.64,143.11 L660.90,144.58 L662.15,145.93 L663.40,147.14 L664.65,148.15 L665.90,148.93 L667.16,149.43 L668.41,149.63 L669.66,149.49 L670.91,149.00 L672.16,148.13 L673.42,146.86 L674.67,145.21 L675.92,143.15 L677.17,140.72 L678.42,137.92 L679.68,134.76 L680.93,131.29 L682.18,127.54 L683.43,123.53 L684.68,119.32 L685.94,114.95 L687.19,110.47 L688.44,105.92 L689.69,101.36 L690.94,96.84 L692.20,92.39 L693.45,88.07 L694.70,83.90 L695.95,79.94 L697.20,76.20 L698.46,72.72 L699.71,69.50 L700.96,66.57 L702.21,63.94 L703.46,61.60 L704.72,59.54 L705.97,57.77 L707.22,56.26 L708.47,55.00 L709.72,53.97 L710.98,53.14 L712.23,52.49 L713.48,51.99 L714.73,51.62 L715.98,51.36 L717.24,51.17 L718.49,51.05 L719.74,50.97 L720.99,50.93 L722.24,50.91 L723.50,50.92 L724.75,50.95 L726.00,51.00" stroke="#141464" stroke-width="2.6"/>
<path d="M100.00,85.81 L101.25,85.84 L102.50,85.89 L103.76,85.97 L105.01,86.06 L106.26,86.17 L107.51,86.31 L108.76,86.46 L110.02,86.64 L111.27,86.84 L112.52,87.06 L113.77,87.29 L115.02,87.55 L116.28,87.83 L117.53,88.13 L118.78,88.45 L120.03,88.79 L121.28,89.15 L122.54,89.53 L123.79,89.94 L125.04,90.36 L126.29,90.80 L127.54,91.26 L128.80,91.74 L130.05,92.24 L131.30,92.76 L132.55,93.31 L133.80,93.87 L135.06,94.45 L136.31,95.05 L137.56,95.66 L138.81,96.30 L140.06,96.96 L141.32,97.63 L142.57,98.33 L143.82,99.04 L145.07,99.78 L146.32,100.53 L147.58,101.30 L148.83,102.08 L150.08,102.89 L151.33,103.71 L152.58,104.56 L153.84,105.42 L155.09,106.29 L156.34,107.19 L157.59,108.10 L158.84,109.03 L160.10,109.98 L161.35,110.94 L162.60,111.92 L163.85,112.92 L165.10,113.93 L166.36,114.96 L167.61,116.01 L168.86,117.07 L170.11,118.15 L171.36,119.25 L172.62,120.35 L173.87,121.48 L175.12,122.62 L176.37,123.77 L177.62,124.94 L178.88,126.13 L180.13,127.33 L181.38,128.54 L182.63,129.77 L183.88,131.01 L185.14,132.26 L186.39,133.53 L187.64,134.81 L188.89,136.10 L190.14,137.41 L191.40,138.73 L192.65,140.06 L193.90,141.41 L195.15,142.76 L196.40,144.13 L197.66,145.51 L198.91,146.90 L200.16,148.30 L201.41,149.71 L202.66,151.14 L203.92,152.57 L205.17,154.01 L206.42,155.47 L207.67,156.93 L208.92,158.41 L210.18,159.89 L211.43,161.38 L212.68,162.88 L213.93,164.39 L215.18,165.91 L216.44,167.43 L217.69,168.96 L218.94,170.51 L220.19,172.05 L221.44,173.61 L222.70,175.17 L223.95,176.74 L225.20,178.32 L226.45,179.90 L227.70,181.48 L228.96,183.08 L230.21,184.68 L231.46,186.28 L232.71,187.89 L233.96,189.50 L235.22,191.12 L236.47,192.74 L237.72,194.36 L238.97,195.99 L240.22,197.63 L241.48,199.26 L242.73,200.90 L243.98,202.54 L245.23,204.18 L246.48,205.83 L247.74,207.47 L248.99,209.12 L250.24,210.77 L251.49,212.42 L252.74,214.07 L254.00,215.73 L255.25,217.38 L256.50,219.03 L257.75,220.68 L259.00,222.33 L260.26,223.98 L261.51,225.63 L262.76,227.28 L264.01,228.92 L265.26,230.57 L266.52,232.21 L267.77,233.85 L269.02,235.49 L270.27,237.12 L271.52,238.75 L272.78,240.38 L274.03,242.00 L275.28,243.62 L276.53,245.24 L277.78,246.85 L279.04,248.46 L280.29,250.06 L281.54,251.65 L282.79,253.25 L284.04,254.83 L285.30,256.41 L286.55,257.98 L287.80,259.55 L289.05,261.11 L290.30,262.66 L291.56,264.21 L292.81,265.74 L294.06,267.27 L295.31,268.80 L296.56,270.31 L297.82,271.82 L299.07,273.31 L300.32,274.80 L301.57,276.28 L302.82,277.75 L304.08,279.21 L305.33,280.66 L306.58,282.10 L307.83,283.53 L309.08,284.95 L310.34,286.36 L311.59,287.75 L312.84,289.14 L314.09,290.51 L315.34,291.88 L316.60,293.23 L317.85,294.57 L319.10,295.89 L320.35,297.21 L321.60,298.51 L322.86,299.80 L324.11,301.08 L325.36,302.34 L326.61,303.59 L327.86,304.82 L329.12,306.04 L330.37,307.25 L331.62,308.44 L332.87,309.62 L334.12,310.79 L335.38,311.93 L336.63,313.07 L337.88,314.19 L339.13,315.29 L340.38,316.38 L341.64,317.45 L342.89,318.51 L344.14,319.55 L345.39,320.57 L346.64,321.58 L347.90,322.57 L349.15,323.54 L350.40,324.50 L351.65,325.44 L352.90,326.36 L354.16,327.27 L355.41,328.16 L356.66,329.03 L357.91,329.88 L359.16,330.71 L360.42,331.53 L361.67,332.33 L362.92,333.11 L364.17,333.87 L365.42,334.62 L366.68,335.34 L367.93,336.05 L369.18,336.74 L370.43,337.40 L371.68,338.05 L372.94,338.68 L374.19,339.29 L375.44,339.89 L376.69,340.46 L377.94,341.01 L379.20,341.54 L380.45,342.06 L381.70,342.55 L382.95,343.02 L384.20,343.48 L385.46,343.91 L386.71,344.33 L387.96,344.72 L389.21,345.09 L390.46,345.44 L391.72,345.78 L392.97,346.09 L394.22,346.38 L395.47,346.65 L396.72,346.90 L397.98,347.13 L399.23,347.34 L400.48,347.53 L401.73,347.70 L402.98,347.85 L404.24,347.97 L405.49,348.08 L406.74,348.17 L407.99,348.23 L409.24,348.27 L410.50,348.30 L411.75,348.30 L413.00,348.28 L414.25,348.24 L415.50,348.18 L416.76,348.10 L418.01,348.00 L419.26,347.87 L420.51,347.73 L421.76,347.57 L423.02,347.38 L424.27,347.18 L425.52,346.95 L426.77,346.71 L428.02,346.44 L429.28,346.15 L430.53,345.84 L431.78,345.51 L433.03,345.17 L434.28,344.80 L435.54,344.41 L436.79,344.00 L438.04,343.57 L439.29,343.12 L440.54,342.65 L441.80,342.16 L443.05,341.65 L444.30,341.12 L445.55,340.57 L446.80,340.00 L448.06,339.42 L449.31,338.81 L450.56,338.18 L451.81,337.54 L453.06,336.87 L454.32,336.19 L455.57,335.49 L456.82,334.77 L458.07,334.03 L459.32,333.27 L460.58,332.49 L461.83,331.70 L463.08,330.88 L464.33,330.05 L465.58,329.20 L466.84,328.34 L468.09,327.45 L469.34,326.55 L470.59,325.63 L471.84,324.69 L473.10,323.74 L474.35,322.77 L475.60,321.78 L476.85,320.78 L478.10,319.76 L479.36,318.72 L480.61,317.67 L481.86,316.60 L483.11,315.51 L484.36,314.41 L485.62,313.30 L486.87,312.17 L488.12,311.02 L489.37,309.86 L490.62,308.69 L491.88,307.50 L493.13,306.29 L494.38,305.07 L495.63,303.84 L496.88,302.59 L498.14,301.33 L499.39,300.06 L500.64,298.78 L501.89,297.48 L503.14,296.16 L504.40,294.84 L505.65,293.50 L506.90,292.15 L508.15,290.79 L509.40,289.42 L510.66,288.04 L511.91,286.64 L513.16,285.24 L514.41,283.82 L515.66,282.39 L516.92,280.95 L518.17,279.51 L519.42,278.05 L520.67,276.58 L521.92,275.10 L523.18,273.62 L524.43,272.12 L525.68,270.62 L526.93,269.11 L528.18,267.59 L529.44,266.06 L530.69,264.52 L531.94,262.98 L533.19,261.43 L534.44,259.87 L535.70,258.30 L536.95,256.73 L538.20,255.15 L539.45,253.57 L540.70,251.98 L541.96,250.39 L543.21,248.78 L544.46,247.18 L545.71,245.57 L546.96,243.95 L548.22,242.34 L549.47,240.71 L550.72,239.09 L551.97,237.46 L553.22,235.82 L554.48,234.19 L555.73,232.55 L556.98,230.90 L558.23,229.26 L559.48,227.62 L560.74,225.97 L561.99,224.32 L563.24,222.67 L564.49,221.02 L565.74,219.37 L567.00,217.72 L568.25,216.06 L569.50,214.41 L570.75,212.76 L572.00,211.11 L573.26,209.46 L574.51,207.81 L575.76,206.16 L577.01,204.52 L578.26,202.87 L579.52,201.23 L580.77,199.60 L582.02,197.96 L583.27,196.33 L584.52,194.70 L585.78,193.07 L587.03,191.45 L588.28,189.83 L589.53,188.22 L590.78,186.61 L592.04,185.00 L593.29,183.40 L594.54,181.81 L595.79,180.22 L597.04,178.64 L598.30,177.06 L599.55,175.49 L600.80,173.93 L602.05,172.37 L603.30,170.82 L604.56,169.28 L605.81,167.74 L607.06,166.22 L608.31,164.70 L609.56,163.19 L610.82,161.69 L612.07,160.19 L613.32,158.71 L614.57,157.23 L615.82,155.77 L617.08,154.31 L618.33,152.86 L619.58,151.43 L620.83,150.00 L622.08,148.59 L623.34,147.18 L624.59,145.79 L625.84,144.41 L627.09,143.04 L628.34,141.68 L629.60,140.34 L630.85,139.00 L632.10,137.68 L633.35,136.37 L634.60,135.07 L635.86,133.79 L637.11,132.52 L638.36,131.26 L639.61,130.02 L640.86,128.79 L642.12,127.57 L643.37,126.37 L644.62,125.18 L645.87,124.01 L647.12,122.85 L648.38,121.71 L649.63,120.58 L650.88,119.47 L652.13,118.37 L653.38,117.29 L654.64,116.23 L655.89,115.18 L657.14,114.14 L658.39,113.13 L659.64,112.13 L660.90,111.14 L662.15,110.17 L663.40,109.22 L664.65,108.29 L665.90,107.37 L667.16,106.48 L668.41,105.59 L669.66,104.73 L670.91,103.89 L672.16,103.06 L673.42,102.25 L674.67,101.46 L675.92,100.68 L677.17,99.93 L678.42,99.19 L679.68,98.47 L680.93,97.78 L682.18,97.10 L683.43,96.43 L684.68,95.79 L685.94,95.17 L687.19,94.57 L688.44,93.98 L689.69,93.42 L690.94,92.87 L692.20,92.35 L693.45,91.84 L694.70,91.36 L695.95,90.89 L697.20,90.45 L698.46,90.02 L699.71,89.62 L700.96,89.23 L702.21,88.86 L703.46,88.52 L704.72,88.20 L705.97,87.89 L707.22,87.61 L708.47,87.35 L709.72,87.10 L710.98,86.88 L712.23,86.68 L713.48,86.50 L714.73,86.34 L715.98,86.20 L717.24,86.08 L718.49,85.98 L719.74,85.91 L720.99,85.85 L722.24,85.82 L723.50,85.80 L724.75,85.81 L726.00,85.83" stroke="#d922d9" stroke-width="2.3"/>
</g>
<g stroke="#111" stroke-width="2.2">
<line x1="115" y1="55" x2="142.5" y2="28.75"/>
<line x1="156" y1="103" x2="203" y2="79.5"/>
<line x1="356" y1="184.7" x2="380.6" y2="160"/>
<line x1="588" y1="228" x2="613.6" y2="266.4"/>
</g>
<text x="45.00" y="28.00" class="ax" textLength="36.76" lengthAdjust="spacing">1.5</text>
<text x="68.10" y="94.10" class="ax">1</text>
<text x="45.40" y="157.60" class="ax" textLength="36.16" lengthAdjust="spacing">0.5</text>
<text x="66.50" y="225.60" class="ax">0</text>
<text x="35.50" y="292.00" class="ax" textLength="47.01" lengthAdjust="spacing">-0.5</text>
<text x="56.30" y="356.30" class="ax" textLength="21.13" lengthAdjust="spacing">-1</text>
<text x="35.50" y="423.00" class="ax" textLength="46.81" lengthAdjust="spacing">-1.5</text>
<text x="92.90" y="461.10" class="ax">0</text>
<text x="216.30" y="461.25" class="ax" textLength="79.73" lengthAdjust="spacing">0.0041</text>
<text x="370.40" y="461.30" class="ax" textLength="82.73" lengthAdjust="spacing">0.0082</text>
<text x="522.60" y="461.40" class="ax" textLength="81.53" lengthAdjust="spacing">0.0123</text>
<text x="675.60" y="461.40" class="ax" textLength="82.53" lengthAdjust="spacing">0.0164</text>
<text x="353.50" y="515.40" class="ax" textLength="129.24" lengthAdjust="spacing">Time Secs</text>
<text x="144.75" y="33.65" class="sr" textLength="43.92" lengthAdjust="spacing">f(t)</text>
<text x="209.50" y="92.75" class="sr" textLength="175.53" lengthAdjust="spacing">Fundamental</text>
<text x="338.40" y="152.70" class="sr" textLength="65.32" lengthAdjust="spacing">Fifth</text>
<text x="612.00" y="292.00" class="sr" textLength="109.75" lengthAdjust="spacing">Seventh</text>

</svg>
</body></html>
